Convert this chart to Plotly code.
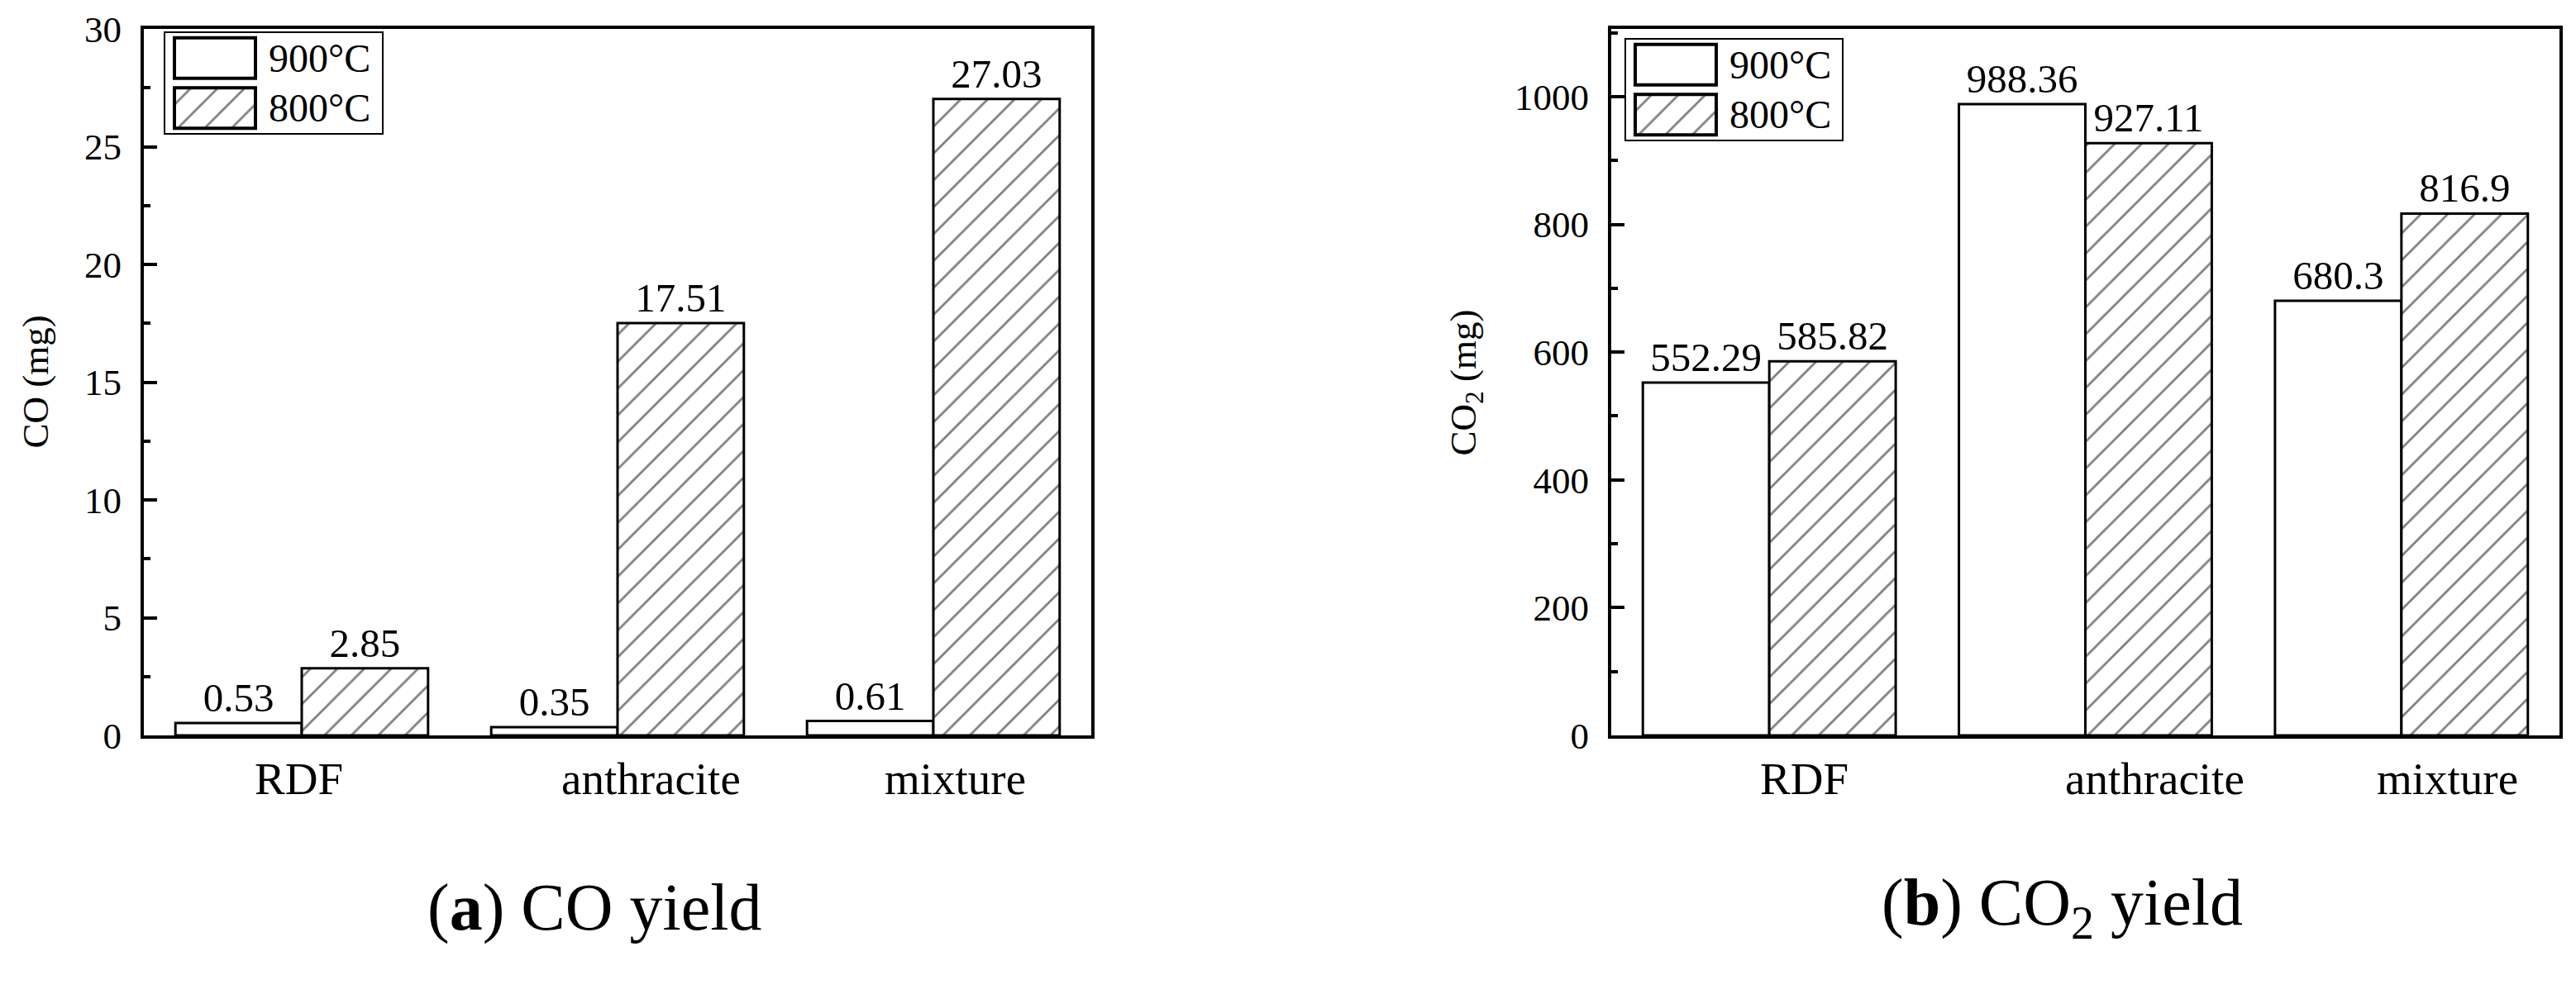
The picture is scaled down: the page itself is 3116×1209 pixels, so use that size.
import plotly.graph_objects as go

# ---------------- data ----------------
categories = ["RDF", "anthracite", "mixture"]
series_names = ["900°C", "800°C"]
co_900 = [0.53, 0.35, 0.61]
co_800 = [2.85, 17.51, 27.03]
co2_900 = [552.29, 988.36, 680.3]
co2_800 = [585.82, 927.11, 816.9]
co_ticks = [0, 5, 10, 15, 20, 25, 30]
co2_ticks = [0, 200, 400, 600, 800, 1000]

# ---------------- style ----------------
W, H = 3116, 1209
FONT = "Liberation Serif, Times New Roman, serif"
HATCH = dict(shape="/", size=23, solidity=0.12, fgcolor="black", bgcolor="white")


def fx(p):
    return p / W


def fy(p):
    return 1 - p / H


panels = [
    dict(x0=174, x1=1320, top=35, bot=890, legend=(200, 40, 462, 161),
         vals=(co_900, co_800), yrange=[0, 30], ticks=co_ticks, minor=2.5,
         title="CO (mg)", title_x=42, cat_shift=[-0.01, 0.105, 0.07],
         caption="(<b>a</b>) CO yield", cap_x=719),
    dict(x0=1949, x1=3096, top=35, bot=890, legend=(1967, 48, 2228, 169),
         vals=(co2_900, co2_800), yrange=[0, 1106], ticks=co2_ticks, minor=100,
         title="CO<sub>2</sub> (mg)", title_x=1772, cat_shift=[0.11, 0.22, 0.145],
         caption="(<b>b</b>) CO<sub>2</sub> yield", cap_x=2494),
]

fig = go.Figure()
annotations = []
layout_axes = {}

for i, p in enumerate(panels):
    xa = "x" if i == 0 else f"x{i + 1}"
    ya = "y" if i == 0 else f"y{i + 1}"
    for s, (name, vals) in enumerate(zip(series_names, p["vals"])):
        marker = dict(color="white", line=dict(color="black", width=3))
        if s == 1:
            marker["pattern"] = HATCH
        fig.add_trace(go.Bar(
            x=categories, y=vals, name=name, xaxis=xa, yaxis=ya,
            marker=marker, text=[str(v) for v in vals], textposition="outside",
            textfont=dict(family=FONT, size=49, color="black"),
            constraintext="none", cliponaxis=False, showlegend=False,
            offsetgroup=str(s),
        ))
    xkey = "xaxis" if i == 0 else f"xaxis{i + 1}"
    ykey = "yaxis" if i == 0 else f"yaxis{i + 1}"
    layout_axes[xkey] = dict(
        domain=[fx(p["x0"]), fx(p["x1"])], anchor=ya, type="category",
        range=[-0.5, 2.5], showline=True, linewidth=4, linecolor="black",
        mirror=True, ticks="", showticklabels=False, showgrid=False, zeroline=False,
        automargin=False,
    )
    layout_axes[ykey] = dict(
        domain=[fy(p["bot"]), fy(p["top"])], anchor=xa, range=p["yrange"],
        showline=True, linewidth=4, linecolor="black", mirror=True,
        ticks="inside", ticklen=16, tickwidth=4, tickcolor="black",
        tickvals=p["ticks"], ticklabelstandoff=14,
        tickfont=dict(family=FONT, size=45, color="black"),
        minor=dict(ticks="inside", ticklen=8, tickwidth=4, tickcolor="black",
                   dtick=p["minor"], showgrid=False),
        showgrid=False, zeroline=False, automargin=False,
    )
    # category labels
    for k, c in enumerate(categories):
        annotations.append(dict(
            x=k + p["cat_shift"][k], y=fy(942), xref=xa, yref="paper",
            text=c, showarrow=False, xanchor="center", yanchor="middle",
            font=dict(family=FONT, size=55, color="black"),
        ))
    # y-axis title
    annotations.append(dict(
        x=fx(p["title_x"]), y=fy((p["top"] + p["bot"]) / 2), xref="paper", yref="paper",
        text=p["title"], textangle=-90, showarrow=False, xanchor="center", yanchor="middle",
        font=dict(family=FONT, size=45, color="black"),
    ))
    # caption
    annotations.append(dict(
        x=fx(p["cap_x"]), y=fy(1098), xref="paper", yref="paper",
        text=p["caption"], showarrow=False, xanchor="center", yanchor="middle",
        font=dict(family=FONT, size=80, color="black"),
    ))

    # custom legend (own little axes box)
    lx0, ly0, lx1, ly1 = p["legend"]
    li = i + 3
    lxa, lya = f"x{li}", f"y{li}"
    for s, name in enumerate(series_names):
        marker = dict(color="white", line=dict(color="black", width=4))
        if s == 1:
            marker["pattern"] = HATCH
        fig.add_trace(go.Bar(
            y=[name], x=[98], base=[11], orientation="h", width=0.81,
            xaxis=lxa, yaxis=lya, marker=marker, showlegend=False, hoverinfo="skip",
        ))
        annotations.append(dict(
            x=123, y=name, xref=lxa, yref=lya, text=name, showarrow=False,
            xanchor="left", yanchor="middle",
            font=dict(family=FONT, size=48, color="black"),
        ))
    layout_axes[f"xaxis{li}"] = dict(
        domain=[fx(lx0), fx(lx1)], anchor=lya, range=[0, lx1 - lx0],
        showline=True, linewidth=2, linecolor="black", mirror=True,
        ticks="", showticklabels=False, showgrid=False, zeroline=False, fixedrange=True,
        automargin=False,
    )
    layout_axes[f"yaxis{li}"] = dict(
        domain=[fy(ly1), fy(ly0)], anchor=lxa, type="category",
        categoryorder="array", categoryarray=list(reversed(series_names)),
        range=[-0.5, 1.5], showline=True, linewidth=2, linecolor="black", mirror=True,
        ticks="", showticklabels=False, showgrid=False, zeroline=False, fixedrange=True,
        automargin=False,
    )

fig.update_layout(
    width=W, height=H, autosize=False,
    margin=dict(l=0, r=0, t=0, b=0, autoexpand=False),
    paper_bgcolor="white", plot_bgcolor="white",
    barmode="group", bargap=0.2, bargroupgap=0,
    font=dict(family=FONT, color="black"),
    annotations=annotations,
    showlegend=False,
    **layout_axes,
)

fig.write_html("out.html", post_script="document.body.style.margin='0';",
               config={"displayModeBar": False})
